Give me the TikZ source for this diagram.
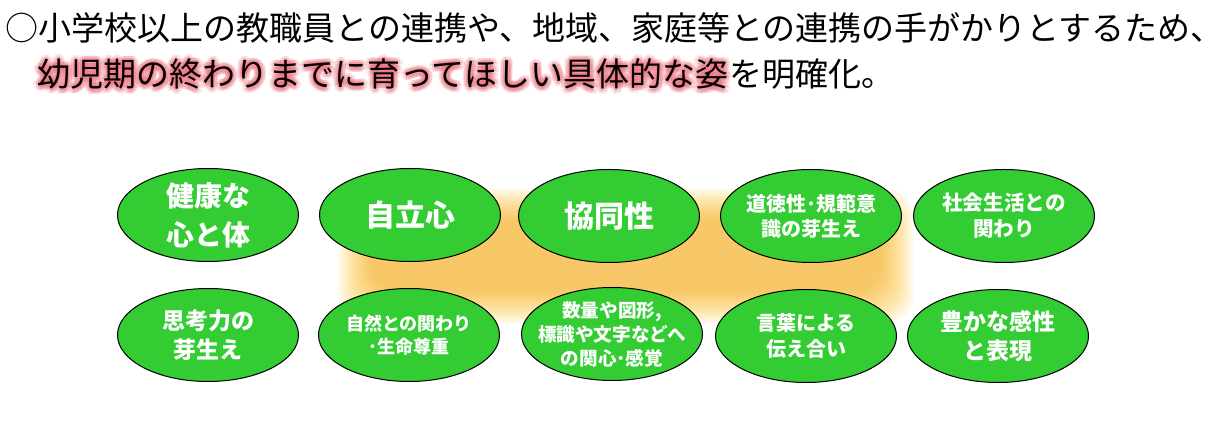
\documentclass[tikz,border=0pt]{standalone}
\usepackage{fontspec}
\setmainfont{Noto Sans CJK JP}
\usetikzlibrary{shapes.geometric}
\definecolor{Leaf}{HTML}{33CC33}
\definecolor{Amber}{HTML}{F7B440}
\definecolor{Straw}{HTML}{FFE27E}
\definecolor{Rose}{HTML}{EE6E7C}

\begin{document}
\begin{tikzpicture}[x=0.5pt,y=-0.5pt,
  bubble/.style={ellipse,draw=black,fill=Leaf,line width=0.5pt,minimum width=90.5pt,minimum height=46.5pt,inner sep=0pt},
  btext/.style={text=white,font=\bfseries,align=center,inner sep=0pt},
  headline/.style={anchor=base west,inner sep=0pt,font=\fontsize{16.5}{20}\selectfont}]
  \useasboundingbox (0,0) rectangle (1230,431);

  % soft band behind the middle bubbles
  \foreach \k in {0,...,19}
    \fill[Amber!\the\numexpr 20+4*\k\relax!Straw,opacity=0.09,rounded corners=14pt]
      (338+1.7*\k,188+1.7*\k) rectangle (914-1.7*\k,324-1.7*\k);

  % heading
  \node[headline] (line1) at (5,41) {○小学校以上の教職員との連携や、地域、家庭等との連携の手がかりとするため、};
  \foreach \r in {1.2,2.4}
    \foreach \a in {0,30,...,330}
      \node[headline,text=Rose,opacity=0.18,xshift={\r*cos(\a)*1pt},yshift={\r*sin(\a)*1pt}]
        at (37,87) {幼児期の終わりまでに育ってほしい具体的な姿};
  \node[headline] (line2) at (37,87) {幼児期の終わりまでに育ってほしい具体的な姿};
  \node[headline] (line2b) at (line2.base east) {を明確化。};

  % top row
  \node[bubble,label={[btext,font=\bfseries\fontsize{14}{19.5}\selectfont]center:健康な\\心と体}] (health) at (208,215) {};
  \node[bubble,label={[btext,font=\bfseries\fontsize{15}{18}\selectfont]center:自立心}] (indep) at (410,215) {};
  \node[bubble,label={[btext,font=\bfseries\fontsize{15}{18}\selectfont]center:協同性}] (coop) at (609,216) {};
  \node[bubble,label={[btext,font=\bfseries\fontsize{10}{12.5}\selectfont]center:道徳性･規範意\\識の芽生え}] (moral) at (811,216) {};
  \node[bubble,label={[btext,font=\bfseries\fontsize{10.3}{13}\selectfont]center:社会生活との\\関わり}] (social) at (1004,216) {};

  % bottom row
  \node[bubble,label={[btext,font=\bfseries\fontsize{11.5}{14.5}\selectfont]center:思考力の\\芽生え}] (think) at (208,335) {};
  \node[bubble,label={[btext,font=\bfseries\fontsize{9}{11.5}\selectfont]center:自然との関わり\\･生命尊重}] (nature) at (409,335) {};
  \node[bubble,label={[btext,font=\bfseries\fontsize{9.3}{12}\selectfont]center:数量や図形,\\標識や文字などへ\\の関心･感覚}] (number) at (612,334) {};
  \node[bubble,label={[btext,font=\bfseries\fontsize{10}{13}\selectfont]center:言葉による\\伝え合い}] (words) at (806,336) {};
  \node[bubble,label={[btext,font=\bfseries\fontsize{11.5}{14.5}\selectfont]center:豊かな感性\\と表現}] (sense) at (998,336) {};
\end{tikzpicture}
\end{document}
